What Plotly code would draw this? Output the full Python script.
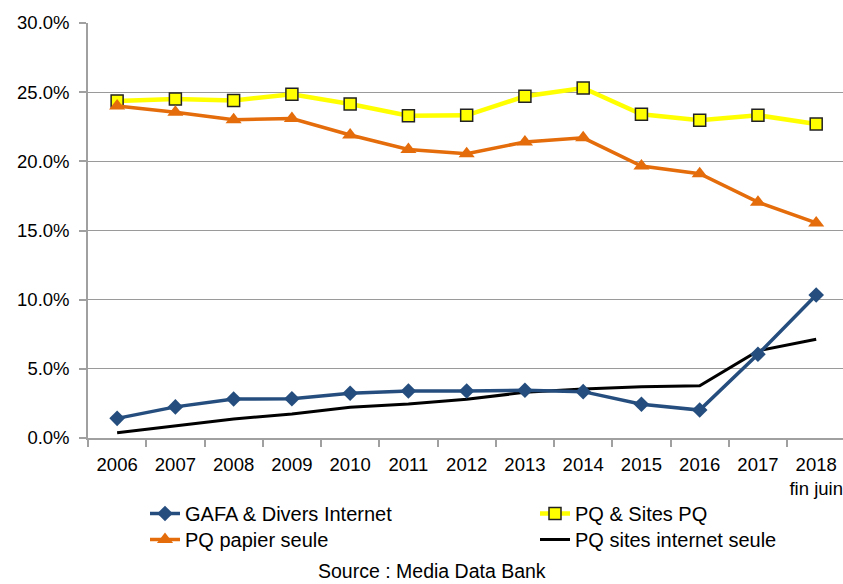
import plotly.graph_objects as go

years = ["2006", "2007", "2008", "2009", "2010", "2011", "2012",
         "2013", "2014", "2015", "2016", "2017", "2018<br>fin juin"]

gafa = [1.42, 2.25, 2.82, 2.84, 3.23, 3.40, 3.40, 3.45, 3.35, 2.44, 2.02, 6.05, 10.34]
pq_sites = [24.37, 24.50, 24.40, 24.85, 24.15, 23.30, 23.33, 24.70, 25.30, 23.40, 22.97, 23.33, 22.70]
pq_papier = [24.00, 23.55, 23.00, 23.10, 21.90, 20.85, 20.55, 21.40, 21.70, 19.66, 19.10, 17.05, 15.55]
pq_internet = [0.38, 0.89, 1.37, 1.74, 2.22, 2.46, 2.80, 3.30, 3.54, 3.71, 3.78, 6.30, 7.14]

FONT = "Liberation Sans, Arial, sans-serif"

# plot area in pixels
L, R, T, B = 88, 843, 23, 438
PW, PH = R - L, B - T


def pct(vals):
    return [v / 100 for v in vals]


def px_x(x):
    return (x - L) / PW


def px_y(y):
    return (B - y) / PH


fig = go.Figure()

fig.add_trace(go.Scatter(
    x=years, y=pct(pq_internet), name="PQ sites internet seule",
    mode="lines", line=dict(color="#000000", width=3),
    legend="legend4",
))
fig.add_trace(go.Scatter(
    x=years, y=pct(pq_sites), name="PQ & Sites PQ",
    mode="lines+markers", line=dict(color="#FFFF00", width=4.5),
    marker=dict(symbol="square", size=12, color="#FFFF00",
                line=dict(color="#222222", width=1.5)),
    legend="legend2",
))
fig.add_trace(go.Scatter(
    x=years, y=pct(pq_papier), name="PQ papier seule",
    mode="lines+markers", line=dict(color="#E46C0A", width=3.5),
    marker=dict(symbol="triangle-up", size=14, color="#E46C0A"),
    legend="legend3",
))
fig.add_trace(go.Scatter(
    x=years, y=pct(gafa), name="GAFA & Divers Internet",
    mode="lines+markers", line=dict(color="#254E7E", width=3.5),
    marker=dict(symbol="diamond", size=12, color="#254E7E"),
    legend="legend",
))

legend_common = dict(
    xanchor="left", yanchor="top",
    orientation="v", traceorder="normal",
    font=dict(family=FONT, size=20, color="#000000"),
    bgcolor="rgba(0,0,0,0)", itemwidth=30, tracegroupgap=0,
)

# two legend columns, two rows
col1, col2 = 145, 535
row1, row2 = 494, 520

fig.update_layout(
    width=843, height=584,
    margin=dict(l=L, r=843 - R, t=T, b=584 - B, autoexpand=False),
    paper_bgcolor="white", plot_bgcolor="white",
    font=dict(family=FONT, size=18, color="#000000"),
    showlegend=True,
    legend=dict(x=px_x(col1), y=px_y(row1), **legend_common),
    legend2=dict(x=px_x(col2), y=px_y(row1), **legend_common),
    legend3=dict(x=px_x(col1), y=px_y(row2), **legend_common),
    legend4=dict(x=px_x(col2), y=px_y(row2), **legend_common),
    xaxis=dict(
        type="category", range=[-0.5, 12.46], automargin=False,
        showgrid=False, showline=True, linecolor="#A0A0A0", linewidth=1.5,
        ticks="outside", tickson="boundaries", ticklen=7,
        tickcolor="#A0A0A0", tickwidth=1.5, tickangle=0,
        ticklabelstandoff=9,
        tickfont=dict(family=FONT, size=18.5, color="#000000"),
    ),
    yaxis=dict(
        range=[0, 0.30], dtick=0.05, tickformat=".1%", automargin=False,
        showgrid=True, gridcolor="#9A9A9A", gridwidth=1.2,
        showline=True, linecolor="#A0A0A0", linewidth=1.5,
        ticks="outside", ticklen=7, tickcolor="#A0A0A0", tickwidth=1.5,
        zeroline=False, ticklabelstandoff=6,
        tickfont=dict(family=FONT, size=18.5, color="#000000"),
    ),
    annotations=[dict(
        text="Source : Media Data Bank", xref="paper", yref="paper",
        x=px_x(432), y=px_y(571),
        xanchor="center", yanchor="middle", showarrow=False,
        font=dict(family=FONT, size=19.5, color="#000000"),
    )],
)

fig.write_html("out.html")
